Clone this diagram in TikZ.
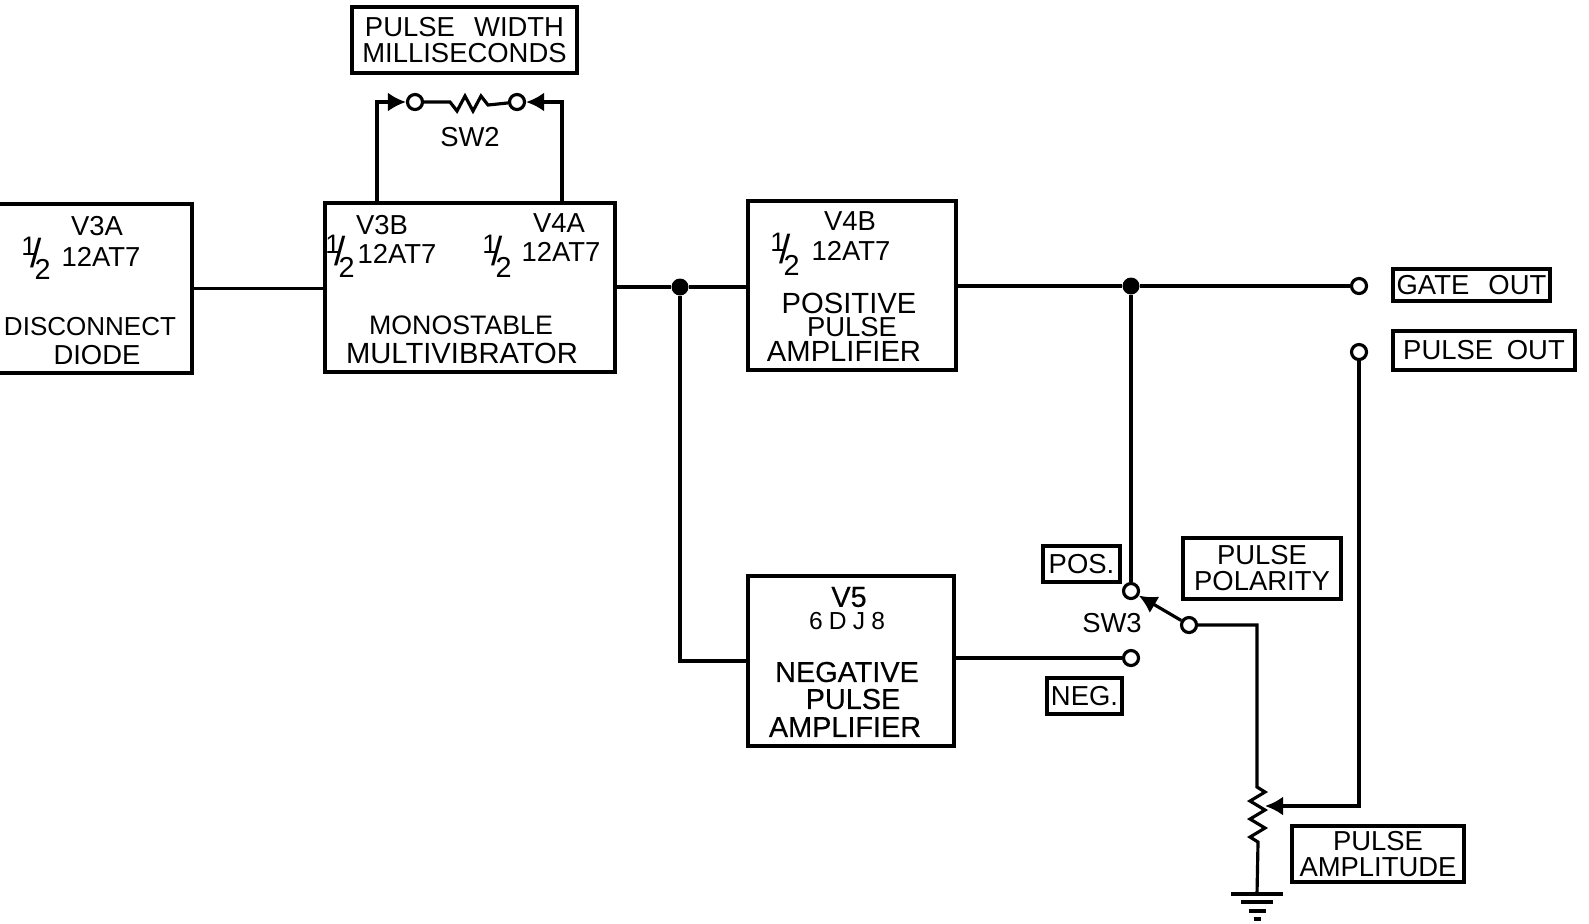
\documentclass[tikz,border=0pt]{standalone}
\usepackage{fontspec}
\setmainfont{Liberation Sans}
\usepackage{tikz}
\usetikzlibrary{positioning,arrows.meta,fit,calc}
\newcommand{\halfmark}{\raisebox{3.4pt}{\fontsize{7.6}{8}\selectfont 1}\kern-1.6pt{\fontsize{11.5}{12}\selectfont /}\kern-2.0pt\raisebox{-3.4pt}{\fontsize{8.2}{9}\selectfont 2}}
\tikzset{
  wire/.style={line width=0.9pt, line join=miter},
  blockbox/.style={draw, line width=0.9pt, inner sep=0pt, fit={#1}},
  lbl/.style={inner sep=0pt, align=center, font=\fontsize{7.8}{7.4}\selectfont},
  widel/.style={inner sep=0pt, align=center, font=\fontsize{8.3}{7.4}\selectfont},
  bigl/.style={inner sep=0pt, align=center, font=\fontsize{8.2}{7.6}\selectfont\addfontfeatures{FakeBold=0.4}},
  term/.style={circle, draw, fill=white, line width=0.9pt, minimum size=0.15cm, inner sep=0pt},
  dot/.style={circle, fill=black, minimum size=0.17cm, inner sep=0pt},
  tip/.style={-{Latex[length=0.18cm,width=0.19cm]}},
}
\begin{document}
\begin{tikzpicture}[x=0.01cm, y=-0.01cm]
  \useasboundingbox (0,0) rectangle (1589,923);
  % blocks
  \node (diode) [blockbox={(-3,204) (192,373)}] {};
  \node (mono) [blockbox={(325,203) (615,372)}] {};
  \node (posamp) [blockbox={(748,201) (956,370)}] {};
  \node (negamp) [blockbox={(748,576) (954,746)}] {};
  % tags
  \node (widthtag) [blockbox={(352,7) (577,73)}] {};
  \node (gatetag) [blockbox={(1393,269) (1550,301)}] {};
  \node (pulsetag) [blockbox={(1393,331) (1575,370)}] {};
  \node (postag) [blockbox={(1043,546) (1120,582)}] {};
  \node (negtag) [blockbox={(1047,678) (1122,714)}] {};
  \node (poltag) [blockbox={(1183,538) (1341,599)}] {};
  \node (amptag) [blockbox={(1292,826) (1464,882)}] {};
  \node[lbl] (widthtxt) at (widthtag) {PULSE\hspace{0.7em}WIDTH\\MILLISECONDS};
  \node[lbl] (gatetxt) at (gatetag) {GATE\hspace{0.7em}OUT};
  \node[lbl] (pulsetxt) at (pulsetag) {PULSE\hspace{0.5em}OUT};
  \node[lbl] (postxt) at (postag) {POS.};
  \node[lbl] (negtxt) at (negtag) {NEG.};
  \node[lbl] (poltxt) at (poltag) {PULSE\\POLARITY};
  \node[lbl] (amptxt) at (amptag) {PULSE\\AMPLITUDE};
  % block text
  \node[lbl] (v3a) at (97,226) {V3A};
  \node[lbl] (v3ah) at (36,258) {\halfmark};
  \node[lbl] (v3at) at (101,257) {12AT7};
  \node[lbl, font=\fontsize{7.4}{7.4}\selectfont] (v3an) at (90,327) {DISCONNECT};
  \node[lbl] (v3ad) at (97,355) {DIODE};
  \node[lbl] (v3b) at (382,225) {V3B};
  \node[lbl] (v3bh) at (340,256) {\halfmark};
  \node[lbl] (v3bt) at (397,254) {12AT7};
  \node[lbl] (v4a) at (559,223) {V4A};
  \node[lbl] (v4ah) at (497,256) {\halfmark};
  \node[lbl] (v4at) at (561,252) {12AT7};
  \node[lbl, font=\fontsize{7.6}{7.4}\selectfont] (monoa) at (461,325) {MONOSTABLE};
  \node[widel] (monob) at (462,353) {MULTIVIBRATOR};
  \node[lbl] (v4b) at (850,221) {V4B};
  \node[lbl] (v4bh) at (785,254) {\halfmark};
  \node[lbl] (v4bt) at (851,251) {12AT7};
  \node[widel] (posa) at (849,303) {POSITIVE};
  \node[lbl] (posb) at (852,327) {PULSE};
  \node[widel] (posc) at (844,351) {AMPLIFIER};
  \node[bigl] (v5) at (849,597) {V5};
  \node[lbl, font=\fontsize{7}{7}\selectfont\addfontfeatures{LetterSpace=25}] (v5t) at (847,621) {6DJ8};
  \node[bigl] (nega) at (847,672) {NEGATIVE};
  \node[bigl] (negb) at (853,699) {PULSE};
  \node[bigl] (negc) at (845,727) {AMPLIFIER};
  \node[lbl] (swtwo) at (470,137) {SW2};
  \node[lbl] (swthree) at (1112,623) {SW3};
  % terminals
  \node[term] (swa) at (415,102) {};
  \node[term] (swb) at (517,102) {};
  \node[dot] (jmono) at (680,287) {};
  \node[dot] (jpos) at (1131,286) {};
  \node[term] (gateout) at (1359,286) {};
  \node[term] (pulseout) at (1359,352) {};
  \node[term] (swpos) at (1131,591) {};
  \node[term] (swneg) at (1131,658) {};
  \node[term] (swarm) at (1189,625) {};
  \coordinate (wl) at (377,203);
  \coordinate (wr) at (562,203);
  \coordinate (pottop) at (1257,787);
  \coordinate (potwiper) at (1265,806);
  \coordinate (gnd) at (1257,894);
  % wires
  \draw[wire] (diode.east) -- (mono.west |- diode.east);
  \draw[wire] (jmono -| mono.east) -- (jmono) -- (posamp.west |- jmono);
  \draw[wire] (jpos -| posamp.east) -- (jpos) -- (gateout);
  \draw[wire] (jmono) |- (negamp.west);
  \draw[wire] (jpos) -- (swpos);
  \draw[wire] (swneg -| negamp.east) -- (swneg);
  \draw[wire, tip] (wl) |- (swa);
  \draw[wire, tip] (wr) |- (swb);
  \draw[wire] (swa) -- (445,102) -- (450,102) -- ++(7,9) -- ++(8,-15) -- ++(8,15) -- ++(8,-15) -- ++(7,9) -- (swb);
  \draw[wire, tip] (swarm) -- (swpos);
  \draw[wire] (swarm) -| (pottop) -- ++(8,5) -- ++(-15,9) -- ++(15,9) -- ++(-15,9) -- ++(15,9) -- ++(-15,9) -- ++(8,5) -- (gnd);
  \draw[wire, tip] (pulseout) |- (potwiper);
  % ground
  \foreach \dy/\hw in {0/26,8/16,17/8.5,25/3.5}
    \draw[wire] ($(gnd)+(-\hw,\dy)$) -- ($(gnd)+(\hw,\dy)$);
\end{tikzpicture}
\end{document}
